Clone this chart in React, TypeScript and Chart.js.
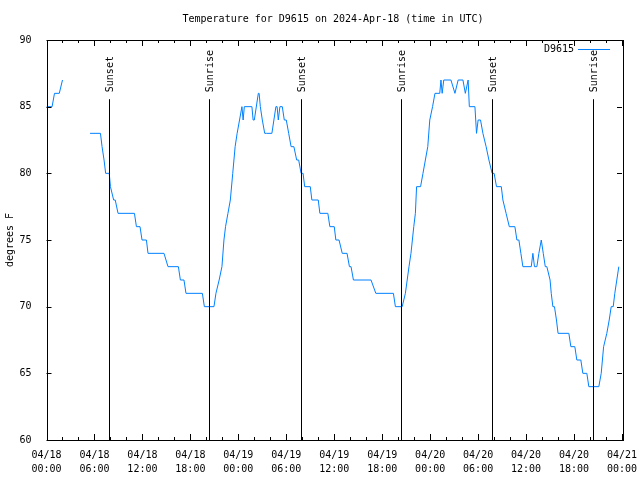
import React, { useEffect, useRef } from "react";
import { Chart, registerables } from "chart.js";

Chart.register(...registerables);

const TITLE = "Temperature for D9615 on 2024-Apr-18 (time in UTC)";
const Y_LABEL = "degrees F";
const SERIES_LABEL = "D9615";
const SERIES_COLOR = "rgb(0,128,255)";
const FONT = "'DejaVu Sans Mono', 'Liberation Mono', monospace";

// hours since 2024-04-18 00:00 UTC
const HOURS = [
  0, 0.7, 1.0, 1.6, 2.0, 3.5,
  5.45, 6.75, 6.95, 7.2, 7.4, 7.85, 8.0, 8.4, 8.6, 8.95, 11.0, 11.25, 11.7, 11.95,
  12.5, 12.7, 14.7, 15.2, 16.5, 16.75, 17.2, 17.45, 19.5, 19.75, 20.95, 21.2, 21.6, 21.95,
  22.2, 22.4, 22.7, 23.0, 23.3, 23.6, 23.85, 24.15, 24.45, 24.6, 24.75, 25.7, 25.85, 26.0,
  26.5, 26.6, 26.75, 27.0, 27.3, 27.5, 28.2, 28.45, 28.7, 28.85, 29.0, 29.2, 29.5, 29.75,
  30.0, 30.3, 30.6, 30.95, 31.3, 31.55, 31.85, 32.1, 32.3, 33.0, 33.2, 34.0, 34.2, 35.2,
  35.45, 36.0, 36.2, 36.6, 37.0, 37.6, 37.9, 38.1, 38.4, 40.6, 41.2, 43.4, 43.65, 44.5,
  44.9, 45.35, 45.6, 45.95, 46.15, 46.3, 46.8, 47.1, 47.4, 47.7, 47.95, 48.3, 48.6, 49.2,
  49.35, 49.5, 49.7, 50.6, 51.1, 51.5, 52.1, 52.4, 52.75, 52.9, 53.6, 53.8, 54.0, 54.3,
  54.6, 55.0, 55.35, 55.75, 56.0, 56.3, 56.9, 57.1, 57.5, 57.9, 58.6, 58.85, 59.1, 59.35,
  59.6, 60.65, 60.85, 61.05, 61.35, 61.6, 61.9, 62.15, 62.4, 62.6, 63.0, 63.15, 63.35, 63.55,
  63.8, 64.0, 65.35, 65.6, 66.1, 66.35, 66.85, 67.1, 67.6, 67.85, 69.1, 69.4, 69.7, 70.1,
  70.4, 70.65, 70.9, 71.1, 71.35, 71.6,
];
const TEMPS: (number | null)[] = [
  85, 85, 86, 86, 87, null,
  83, 83, 82, 81, 80, 80, 79, 78, 78, 77, 77, 76, 76, 75,
  75, 74, 74, 73, 73, 72, 72, 71, 71, 70, 70, 71, 72, 73,
  75, 76, 77, 78, 80, 82, 83, 84, 85, 84, 85, 85, 84, 84,
  86, 86, 85, 84, 83, 83, 83, 84, 85, 85, 84, 85, 85, 84,
  84, 83, 82, 82, 81, 81, 80, 80, 79, 79, 78, 78, 77, 77,
  76, 76, 75, 75, 74, 74, 73, 73, 72, 72, 71, 71, 70, 70,
  71, 73, 74, 76, 77, 79, 79, 80, 81, 82, 84, 85, 86, 86,
  87, 86, 87, 87, 86, 87, 87, 86, 87, 85, 85, 83, 84, 84,
  83, 82, 81, 80, 80, 79, 79, 78, 77, 76, 76, 75, 75, 74,
  73, 73, 74, 73, 73, 74, 75, 74, 73, 73, 72, 71, 70, 70,
  69, 68, 68, 67, 67, 66, 66, 65, 65, 64, 64, 65, 67, 68,
  69, 70, 70, 71, 72, 73,
];

const X_TICK_DATES = ["04/18", "04/18", "04/18", "04/18", "04/19", "04/19", "04/19", "04/19", "04/20", "04/20", "04/20", "04/20", "04/21"];
const X_TICK_TIMES = ["00:00", "06:00", "12:00", "18:00", "00:00", "06:00", "12:00", "18:00", "00:00", "06:00", "12:00", "18:00", "00:00"];

const SUN_EVENTS = ["Sunset", "Sunrise", "Sunset", "Sunrise", "Sunset", "Sunrise"];
const SUN_HOURS = [7.85, 20.35, 31.85, 44.35, 55.73, 68.35];

const overlayPlugin = {
  id: "overlay",
  afterDraw(chart: any) {
    const ctx = chart.ctx as CanvasRenderingContext2D;
    const { left, right, top, bottom } = chart.chartArea;
    const xs = chart.scales.x;
    const ys = chart.scales.y;
    ctx.save();
    ctx.strokeStyle = "#000";
    ctx.lineWidth = 1;
    // frame
    ctx.strokeRect(Math.round(left) + 0.5, Math.round(top) + 0.5, Math.round(right - left), Math.round(bottom - top));
    // x ticks every 2h, major every 6h
    for (let h = 0; h <= 72; h += 2) {
      const px = Math.round(xs.getPixelForValue(h)) + 0.5;
      const len = h % 6 === 0 ? 6 : 3;
      ctx.beginPath();
      ctx.moveTo(px, bottom);
      ctx.lineTo(px, bottom - len);
      ctx.moveTo(px, top);
      ctx.lineTo(px, top + len);
      ctx.stroke();
    }
    // y ticks
    for (let v = 60; v <= 90; v += 5) {
      const py = Math.round(ys.getPixelForValue(v)) + 0.5;
      ctx.beginPath();
      ctx.moveTo(left, py);
      ctx.lineTo(left + 5, py);
      ctx.moveTo(right, py);
      ctx.lineTo(right - 5, py);
      ctx.stroke();
    }
    // sunrise / sunset markers
    const lineTop = top + (bottom - top) * 0.148;
    ctx.font = `10px ${FONT}`;
    ctx.fillStyle = "#000";
    SUN_HOURS.forEach((h, i) => {
      const px = Math.round(xs.getPixelForValue(h)) + 0.5;
      ctx.beginPath();
      ctx.moveTo(px, lineTop);
      ctx.lineTo(px, bottom);
      ctx.stroke();
      ctx.save();
      ctx.translate(px + 1, lineTop - 7);
      ctx.rotate(-Math.PI / 2);
      ctx.textAlign = "left";
      ctx.textBaseline = "middle";
      ctx.fillText(SUN_EVENTS[i], 0, 0);
      ctx.restore();
    });
    // title
    ctx.textAlign = "center";
    ctx.textBaseline = "middle";
    ctx.fillText(TITLE, 333, 19);
    // y label
    ctx.save();
    ctx.translate(10, 240);
    ctx.rotate(-Math.PI / 2);
    ctx.fillText(Y_LABEL, 0, 0);
    ctx.restore();
    // legend
    ctx.textAlign = "right";
    ctx.fillText(chart.data.datasets[0].label, 574, 49);
    ctx.strokeStyle = SERIES_COLOR;
    ctx.beginPath();
    ctx.moveTo(578, 49.5);
    ctx.lineTo(610, 49.5);
    ctx.stroke();
    ctx.restore();
  },
};

export default function App() {
  const ref = useRef<HTMLCanvasElement>(null);
  useEffect(() => {
    document.body.style.margin = "0";
    const canvas = ref.current!;
    const data = HOURS.map((h, i) => ({ x: h, y: TEMPS[i] }));
    const chart = new Chart(canvas, {
      type: "line",
      data: {
        datasets: [
          {
            label: SERIES_LABEL,
            data: data as any,
            borderColor: SERIES_COLOR,
            borderWidth: 1,
            pointRadius: 0,
            tension: 0,
            spanGaps: false,
          },
        ],
      },
      options: {
        animation: false,
        responsive: false,
        devicePixelRatio: 1,
        layout: { padding: { left: 0, top: 40, right: 18, bottom: 0 } },
        plugins: { legend: { display: false }, title: { display: false }, tooltip: { enabled: false } },
        scales: {
          x: {
            type: "linear",
            min: 0,
            max: 72,
            grid: { display: false },
            border: { display: false },
            afterFit: (s: any) => {
              s.height = 40;
              s.paddingLeft = 0;
              s.paddingRight = 0;
            },
            ticks: {
              stepSize: 6,
              autoSkip: false,
              maxRotation: 0,
              padding: 0,
              color: "#000",
              font: { family: FONT, size: 10, lineHeight: 1.4 },
              callback: (v: any) => {
                const i = Math.round(Number(v) / 6);
                return [X_TICK_DATES[i], X_TICK_TIMES[i]];
              },
            },
          },
          y: {
            min: 60,
            max: 90,
            grid: { display: false },
            border: { display: false },
            afterFit: (s: any) => {
              s.width = 46.5;
              s.paddingTop = 0;
              s.paddingBottom = 0;
            },
            ticks: {
              stepSize: 5,
              padding: 7,
              color: "#000",
              font: { family: FONT, size: 10 },
            },
          },
        },
      },
      plugins: [overlayPlugin],
    });
    return () => chart.destroy();
  }, []);
  return (
    <div style={{ position: "absolute", left: 0, top: 0, width: 640, height: 480 }}>
      <canvas ref={ref} width={640} height={480} />
    </div>
  );
}
